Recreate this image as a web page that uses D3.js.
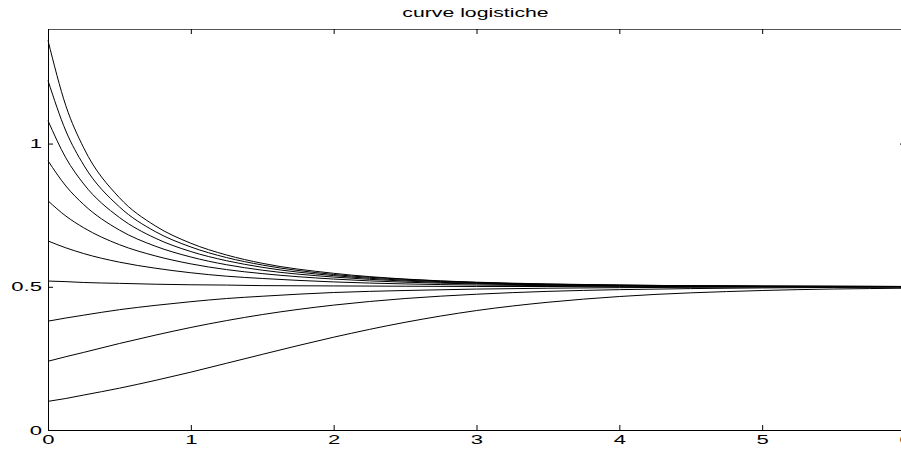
<!DOCTYPE html>
<html>
<head>
<meta charset="utf-8">
<script src="https://cdn.jsdelivr.net/npm/d3@7"></script>
<style>
  body { margin: 0; background: #fff; }
  text { font-family: "Liberation Sans", Arial, sans-serif; }
</style>
</head>
<body>
<div id="chart"></div>
<script>
var margin = { top: 29, right: -4, bottom: 19, left: 48 },
    width = 901 - margin.left - margin.right,
    height = 449 - margin.top - margin.bottom,
    stretch = 1.7;   // the original lettering is wide

// time samples
var times = [0, 0.125, 0.25, 0.5, 0.75, 1, 1.25, 1.5, 2, 2.5, 3, 3.5, 4, 5, 6];

// one array per curve
var curve010 = [0.10, 0.110, 0.122, 0.146, 0.173, 0.202, 0.233, 0.264, 0.324, 0.376, 0.417, 0.446, 0.466, 0.487, 0.495];
var curve024 = [0.24, 0.256, 0.271, 0.302, 0.331, 0.358, 0.382, 0.403, 0.436, 0.459, 0.474, 0.484, 0.490, 0.496, 0.499];
var curve038 = [0.38, 0.391, 0.401, 0.420, 0.435, 0.448, 0.459, 0.467, 0.480, 0.487, 0.492, 0.495, 0.497, 0.499, 0.500];
var curve052 = [0.52, 0.518, 0.515, 0.512, 0.509, 0.507, 0.506, 0.504, 0.503, 0.502, 0.501, 0.501, 0.500, 0.500, 0.500];
var curve066 = [0.66, 0.636, 0.616, 0.586, 0.565, 0.549, 0.537, 0.529, 0.517, 0.510, 0.506, 0.504, 0.502, 0.501, 0.500];
var curve080 = [0.80, 0.747, 0.706, 0.647, 0.608, 0.580, 0.560, 0.546, 0.527, 0.516, 0.510, 0.506, 0.504, 0.501, 0.501];
var curve094 = [0.94, 0.852, 0.787, 0.698, 0.642, 0.604, 0.577, 0.558, 0.534, 0.520, 0.512, 0.507, 0.504, 0.502, 0.501];
var curve108 = [1.08, 0.950, 0.859, 0.742, 0.670, 0.623, 0.591, 0.568, 0.539, 0.523, 0.514, 0.508, 0.505, 0.502, 0.501];
var curve122 = [1.22, 1.044, 0.925, 0.779, 0.693, 0.639, 0.602, 0.576, 0.543, 0.526, 0.515, 0.509, 0.506, 0.502, 0.501];
var curve136 = [1.36, 1.132, 0.985, 0.811, 0.713, 0.652, 0.611, 0.582, 0.547, 0.527, 0.516, 0.510, 0.506, 0.502, 0.501];

var curves = [curve010, curve024, curve038, curve052, curve066, curve080, curve094, curve108, curve122, curve136];

var xTicks = [0, 1, 2, 3, 4, 5, 6],
    yTicks = [0, 0.5, 1];

var svg = d3.select("#chart").append("svg")
    .attr("width", 901)
    .attr("height", 449)
    .append("g")
    .attr("transform", "translate(" + margin.left + "," + margin.top + ")");

var x = d3.scaleLinear().domain([0, 6]).range([0, width]);
var y = d3.scaleLinear().domain([0, 1.4]).range([height, 0]);

// curves
var line = d3.line()
    .x(function(d, i) { return x(times[i]); })
    .y(function(d) { return y(d); })
    .curve(d3.curveMonotoneX);

svg.selectAll(".curve")
    .data(curves)
    .enter().append("path")
    .attr("class", "curve")
    .attr("d", line)
    .attr("fill", "none")
    .attr("stroke", "#000")
    .attr("stroke-width", 1);

// axes: ticks inward, on all four sides
svg.append("g")
    .attr("transform", "translate(0," + height + ")")
    .call(d3.axisBottom(x).tickValues(xTicks).tickSizeInner(-5).tickSizeOuter(0).tickPadding(5).tickFormat(d3.format("d")));
svg.append("g")
    .attr("class", "topaxis")
    .call(d3.axisTop(x).tickValues(xTicks).tickSizeInner(-5).tickSizeOuter(0).tickFormat(""));
svg.append("g")
    .call(d3.axisLeft(y).tickValues(yTicks).tickSizeInner(-5).tickSizeOuter(0).tickPadding(6).tickFormat(function(d) { return d; }));
svg.append("g")
    .attr("transform", "translate(" + width + ",0)")
    .call(d3.axisRight(y).tickValues(yTicks).tickSizeInner(-5).tickSizeOuter(0).tickFormat(""));

svg.selectAll(".domain").attr("stroke", "#000");
svg.select(".topaxis .domain").attr("stroke", "#555");
svg.selectAll(".tick line").attr("stroke", "#000");
svg.selectAll(".tick text")
    .style("font-size", "13px")
    .style("font-family", "'Liberation Sans', Arial, sans-serif")
    .attr("fill", "#000")
    .each(function() {
        var t = d3.select(this);
        t.attr("x", (+t.attr("x") || 0) / stretch)
         .attr("transform", "scale(" + stretch + ",1)");
    });

// title
svg.append("text")
    .attr("x", (width / 2 - 1) / stretch)
    .attr("y", -12)
    .attr("transform", "scale(" + stretch + ",1)")
    .attr("text-anchor", "middle")
    .style("font-size", "12.5px")
    .text("curve logistiche");
</script>
</body>
</html>
